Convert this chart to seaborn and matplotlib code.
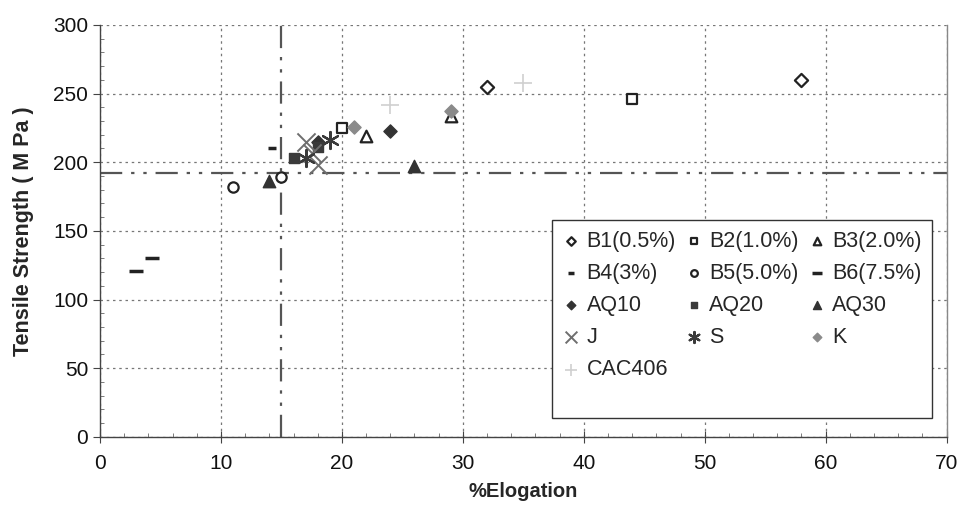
import seaborn as sns
import pandas as pd
import matplotlib.pyplot as plt
from matplotlib.patches import Rectangle
from matplotlib.ticker import MultipleLocator

# data
b1_x, b1_y = [32, 58], [255, 260]
b2_x, b2_y = [20, 44], [225, 246]
b3_x, b3_y = [22, 29], [219, 234]
b4_x, b4_y = [14.2], [210]
b5_x, b5_y = [11, 15], [182, 189]
b6_x, b6_y = [3, 4.3], [121, 130]
aq10_x, aq10_y = [24, 18], [223, 215]
aq20_x, aq20_y = [16, 18], [203, 211]
aq30_x, aq30_y = [14, 26], [186, 197]
j_x, j_y = [17, 18, 17.5], [215, 198, 207]
s_x, s_y = [17, 19], [203, 216]
k_x, k_y = [21, 29], [226, 237]
cac_x, cac_y = [24, 35], [242, 258]

limit_elong = 15
limit_ts = 192

sns.set_style("ticks")
plt.rcParams['font.family'] = ['Liberation Sans', 'DejaVu Sans']

# name, x, y, marker, face, edge, size, linewidth
series = [
    ('B1(0.5%)', b1_x, b1_y, 'D', 'white', '#222222', 45, 1.6),
    ('B2(1.0%)', b2_x, b2_y, 's', 'white', '#222222', 55, 1.6),
    ('B3(2.0%)', b3_x, b3_y, '^', 'white', '#222222', 70, 1.6),
    ('B4(3%)', b4_x, b4_y, '_', '#222222', '#222222', 40, 2.5),
    ('B5(5.0%)', b5_x, b5_y, 'o', 'white', '#222222', 55, 1.6),
    ('B6(7.5%)', b6_x, b6_y, '_', '#222222', '#222222', 110, 2.5),
    ('AQ10', aq10_x, aq10_y, 'D', '#333333', '#333333', 45, 1),
    ('AQ20', aq20_x, aq20_y, 's', '#3a3a3a', '#3a3a3a', 60, 1),
    ('AQ30', aq30_x, aq30_y, '^', '#333333', '#333333', 80, 1),
    ('J', j_x, j_y, 'x', '#6e6e6e', '#6e6e6e', 170, 1.4),
    ('S', s_x, s_y, (6, 2, 0), '#3a3a3a', '#3a3a3a', 150, 1.6),
    ('K', k_x, k_y, 'D', '#8a8a8a', '#8a8a8a', 45, 1),
    ('CAC406', cac_x, cac_y, '+', '#d0d0d0', '#d0d0d0', 150, 1.2),
]

fig, ax = plt.subplots(figsize=(9.62, 5.08), dpi=100)
fig.subplots_adjust(left=0.104, right=0.984, top=0.951, bottom=0.14)

for name, xs, ys, mk, fc, ec, sz, lw in series:
    df = pd.DataFrame({'elong': xs, 'ts': ys})
    sns.scatterplot(data=df, x='elong', y='ts', marker=mk, s=sz,
                    color=fc, edgecolor=ec, linewidth=lw, label=name,
                    ax=ax, zorder=3)

ax.axvline(limit_elong, color='#555555', lw=1.6,
           linestyle=(0, (10, 4, 1.5, 4, 1.5, 4)), zorder=2)
ax.axhline(limit_ts, color='#555555', lw=1.6,
           linestyle=(0, (10, 4, 1.5, 4, 1.5, 4)), zorder=2)

ax.set_xlim(0, 70)
ax.set_ylim(0, 300)
ax.xaxis.set_major_locator(MultipleLocator(10))
ax.xaxis.set_minor_locator(MultipleLocator(2))
ax.yaxis.set_major_locator(MultipleLocator(50))
ax.yaxis.set_minor_locator(MultipleLocator(10))
ax.grid(True, which='major', color='#777777', linestyle=(0, (2, 3)), lw=0.9)
ax.tick_params(axis='both', which='major', labelsize=15, length=5,
               color='#444444', labelcolor='#111111')
ax.tick_params(axis='x', which='major', pad=8, direction='inout', length=8)
ax.tick_params(axis='x', which='minor', direction='in', length=3, color='#666666')
ax.tick_params(axis='y', which='minor', direction='in', length=3, color='#666666')
for sp in ax.spines.values():
    sp.set_color('#444444')
    sp.set_linewidth(1.0)
ax.spines['top'].set_visible(False)
ax.spines['right'].set_color('#888888')

ax.set_xlabel('%Elogation', fontsize=14.5, fontweight='bold', labelpad=7)
ax.set_ylabel('Tensile Strength ( M Pa )', fontsize=15.5, fontweight='bold', labelpad=14)

# legend box drawn by hand so its size matches the original
ax.add_patch(Rectangle((0.534, 0.046), 0.449, 0.481, transform=ax.transAxes,
                       facecolor='white', edgecolor='#333333', lw=1.0, zorder=4))

# reorder so the legend reads row by row with 3 columns
handles, labels = ax.get_legend_handles_labels()
order = [0, 3, 6, 9, 12, 1, 4, 7, 10, 2, 5, 8, 11]
leg = ax.legend([handles[i] for i in order], [labels[i] for i in order],
                ncol=3, loc='upper left', bbox_to_anchor=(0.534, 0.527),
                fontsize=15.5, frameon=False,
                handlelength=0.8, handletextpad=0.3, columnspacing=0.45,
                labelspacing=0.52, markerscale=0.65, borderpad=0.5,
                borderaxespad=0)
leg.set_zorder(5)

plt.savefig('out.png', dpi=100)
